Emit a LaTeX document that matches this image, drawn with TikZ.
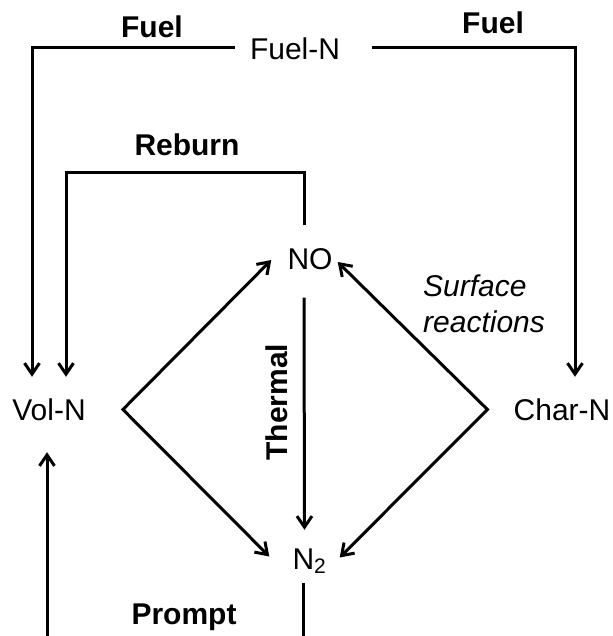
\documentclass[tikz,border=0pt]{standalone}
\usepackage{fontspec}
\setmainfont{Liberation Sans}
\usetikzlibrary{arrows.meta}
\newcommand{\dfont}{\fontsize{25.6pt}{30.7pt}\selectfont}
\tikzstyle{species} = [inner sep=0pt, text height=0.63cm, text depth=0pt, font=\dfont]
\tikzstyle{route} = [inner sep=0pt, anchor=base, font=\dfont\bfseries]
\tikzstyle{link} = [line width=0.09cm]
\tikzstyle{arrow} = [link,->,>={Straight Barb[length=0.33cm,width=0.45cm]}]

\begin{document}
\begin{tikzpicture}[x=0.03cm, y=-0.03cm]
\useasboundingbox (0,0) rectangle (613,636);
\clip (0,0) rectangle (613,636);
% nitrogen species
\node[species] (fueln) at (295,49) {Fuel-N};
\node[species] (voln) at (49,409.5) {Vol-N};
\node[species] (charn) at (562,409.5) {Char-N};
\node[species] (no) at (310,259) {NO};
\node[species] (ntwo) at (309.5,558.5) {N\textsubscript{2}};
% route labels
\node[route] (fuelleft) at (152,37) {Fuel};
\node[route] (fuelright) at (493,33) {Fuel};
\node[route] (reburn) at (187,155) {Reburn};
\node[route] (prompt) at (184,624) {Prompt};
\node[route, rotate=90] (thermal) at (287,402) {Thermal};
\node[inner sep=0pt, anchor=west, align=left, font=\dfont\itshape] (surf) at (423,304) {Surface\\reactions};
\coordinate (rbcorner) at (304,172);
\coordinate (promptbase) at (175,690);
% connectors
\draw[arrow] ([shift={(-15,-2)}]fueln.west) -| ([shift={(-17,-22)}]voln.north);
\draw[arrow] ([shift={(32,-2)}]fueln.east) -| ([shift={(13,-22)}]charn.north);
\draw[arrow] ([shift={(-6,-23)}]no.north) -- (rbcorner) -| ([shift={(17,-22)}]voln.north);
\draw[arrow, <->] ([shift={(-16,1)}]no.west) -- ([shift={(37,0)}]voln.east) -- ([shift={(-23,-2)}]ntwo.west);
\draw[arrow, <->] ([shift={(5,3)}]no.east) -- ([shift={(-26,0)}]charn.west) -- ([shift={(13,-1)}]ntwo.east);
\draw[arrow] ([shift={(-6,28)}]no.south) -- ([shift={(-5,-18)}]ntwo.north);
\draw[arrow] ([shift={(-6,14)}]ntwo.south) |- (promptbase) -| ([shift={(-2,32)}]voln.south);
\end{tikzpicture}
\end{document}
